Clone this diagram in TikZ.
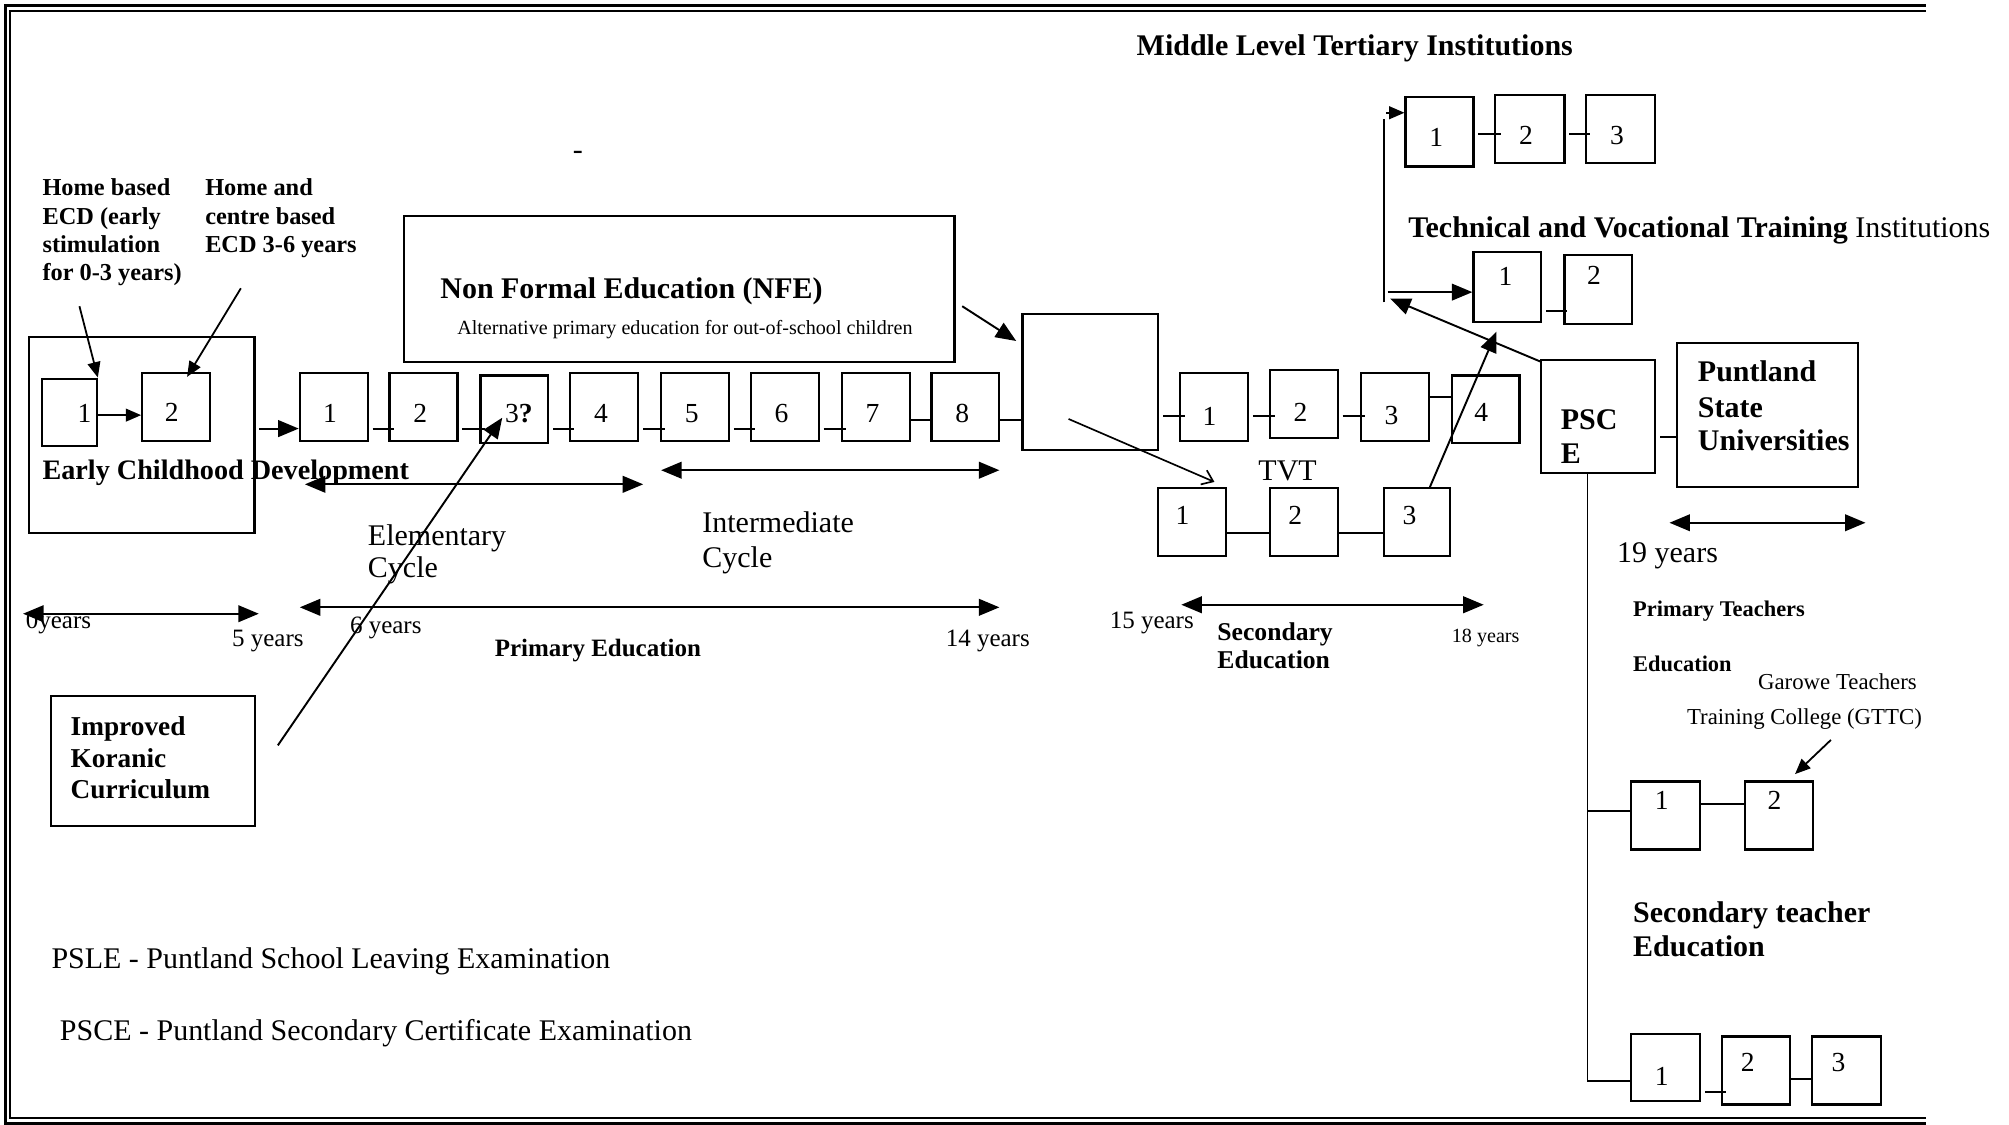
\documentclass[tikz,border=0pt]{standalone}
\usepackage{fontspec}
\setmainfont{Liberation Serif}
\usetikzlibrary{arrows.meta,calc}
\tikzset{
 bx/.style={draw, line width=1.7pt, inner sep=0pt},
 ln/.style={line width=1.5pt},
 arrL/.style={line width=1.5pt, -{Triangle[length=16pt,width=13pt]}},
 arrS/.style={line width=1.4pt, -{Triangle[length=12pt,width=10pt]}},
 darr/.style={line width=1.5pt, {Triangle[length=16pt,width=13pt]}-{Triangle[length=16pt,width=13pt]}},
 openarr/.style={line width=1.3pt, -{Straight Barb[length=8pt,width=12pt]}},
 txt/.style={anchor=base west, inner sep=0pt},
 dig/.style={inner sep=0pt, font=\fontsize{21.5}{24}\selectfont},
 fA/.style={font=\fontsize{23.4}{26}\selectfont},
 fAb/.style={font=\fontsize{23.4}{26}\selectfont\bfseries},
 fE/.style={font=\fontsize{19}{22}\selectfont\bfseries},
 fY/.style={font=\fontsize{19.5}{22}\selectfont},
 fYb/.style={font=\fontsize{19.5}{22}\selectfont\bfseries},
 fS/.style={font=\fontsize{15.7}{18}\selectfont},
 fK/.style={font=\fontsize{21.3}{24}\selectfont\bfseries},
 fPT/.style={font=\fontsize{17.5}{20}\selectfont\bfseries},
 fG/.style={font=\fontsize{17.8}{20}\selectfont},
}
\newcommand\mkbox[5]{\node[bx, minimum width={(#4-#2)*1pt}, minimum height={(#5-#3)*1pt}] (#1) at ({(#2+#4)/2},{(#3+#5)/2}) {};}
\begin{document}
\begin{tikzpicture}[x=1pt,y=-1pt]
\fill[white] (0,0) rectangle (1568,878);
\useasboundingbox (0,0) rectangle (1568,878);
% frame
\draw[line width=2.4pt] (1503,4.5) -- (4.3,4.5) -- (4.3,877) -- (1503,877);
\draw[line width=1.7pt] (1503,8.4) -- (7.8,8.4) -- (7.8,872.4) -- (1503,872.4);

% ---------- boxes ----------
\mkbox{ecd}{22.7}{263}{198.6}{416}
\mkbox{e1}{33}{295.5}{75.5}{348}
\mkbox{e2}{111}{291}{164}{344}
\mkbox{p1}{234}{291}{287}{344}
\mkbox{p2}{304}{291}{357}{344}
\mkbox{p3}{375}{293}{428}{346}
\mkbox{p4}{445}{291}{498}{344}
\mkbox{p5}{516}{291}{569}{344}
\mkbox{p6}{586}{291}{639}{344}
\mkbox{p7}{657}{291}{710}{344}
\mkbox{p8}{727}{291}{780}{344}
\mkbox{big}{798}{245}{904}{351}
\mkbox{nfe}{315}{168.5}{745}{282.5}
\mkbox{kor}{40}{543}{199}{644.5}
\mkbox{s1}{921}{291}{974}{344}
\mkbox{s2}{991}{289}{1044}{342}
\mkbox{s3}{1062}{291}{1115}{344}
\mkbox{s4}{1133}{293}{1186}{346}
\mkbox{t1}{904}{381}{957}{434}
\mkbox{t2}{991}{381}{1044}{434}
\mkbox{t3}{1080}{381}{1132}{434}
\mkbox{m1}{1097}{76}{1150}{130}
\mkbox{m2}{1167}{74}{1221}{127}
\mkbox{m3}{1238}{74}{1292}{127}
\mkbox{ti1}{1150}{197}{1203}{251}
\mkbox{ti2}{1221}{199}{1274}{253}
\mkbox{psce}{1203}{281}{1292}{369}
\mkbox{psu}{1309}{268}{1450}{380}
\mkbox{pt1}{1273}{610}{1327}{663}
\mkbox{pt2}{1362}{610}{1415}{663}
\mkbox{st1}{1273}{807}{1327}{859}
\mkbox{st2}{1344}{809}{1397}{862}
\mkbox{st3}{1414}{809}{1468}{862}

% ---------- digits ----------
\node[dig] (e1n) at (66,323) {1};
\node[dig] (e2n) at (134,322) {2};
\node[dig] (p1n) at (257.6,322.5) {1};
\node[dig] (p2n) at (328,322.5) {2};
\node[dig] (p3n) at (405,322.5) {3\textbf{?}};
\node[dig] (p4n) at (469,322.5) {4};
\node[dig] (p5n) at (540,322.5) {5};
\node[dig] (p6n) at (610,322.5) {6};
\node[dig] (p7n) at (681,322.5) {7};
\node[dig] (p8n) at (751,322.5) {8};
\node[dig] (s1n) at (944,325) {1};
\node[dig] (s2n) at (1015,322) {2};
\node[dig] (s3n) at (1086,324) {3};
\node[dig] (s4n) at (1156,322) {4};
\node[dig] (t1n) at (923,402) {1};
\node[dig] (t2n) at (1011,402) {2};
\node[dig] (t3n) at (1100,402) {3};
\node[dig] (m1n) at (1121,107) {1};
\node[dig] (m2n) at (1191,106) {2};
\node[dig] (m3n) at (1262,106) {3};
\node[dig] (ti1n) at (1175,216) {1};
\node[dig] (ti2n) at (1244,215) {2};
\node[dig] (pt1n) at (1297,625) {1};
\node[dig] (pt2n) at (1385,625) {2};
\node[dig] (st1n) at (1297,840) {1};
\node[dig] (st2n) at (1364,829) {2};
\node[dig] (st3n) at (1435,829) {3};

% ---------- texts ----------
\node[txt,fAb] (mlti) at (887,43.7) {Middle Level Tertiary Institutions};
\node[txt,fA] (dash) at (447,124.4) {-};
\node[txt,fE] (hb1) at (33,152.3) {Home based};
\node[txt,fE] (hb2) at (33,174.9) {ECD (early};
\node[txt,fE] (hb3) at (33,197.3) {stimulation};
\node[txt,fE] (hb4) at (33,219.3) {for 0-3 years)};
\node[txt,fE] (ha1) at (160,152.3) {Home and};
\node[txt,fE] (ha2) at (160,174.9) {centre based};
\node[txt,fE] (ha3) at (160,197.3) {ECD 3-6 years};
\node[txt,font=\fontsize{22}{24}\selectfont\bfseries] (ecdT) at (33,374.3) {Early Childhood Development};
\node[txt,fAb] (nfeT) at (343.5,233.3) {Non Formal Education (NFE)};
\node[txt,fS] (nfeS) at (356.7,261.2) {Alternative primary education for out-of-school children};
\node[txt,fA] (el1) at (287,425.7) {Elementary};
\node[txt,fA] (el2) at (287,450.7) {Cycle};
\node[txt,fA] (in1) at (548,415.7) {Intermediate};
\node[txt,fA] (in2) at (548,442.7) {Cycle};
\node[txt,fY] (y0) at (20,490.9) {0years};
\node[txt,fY] (y5) at (181,504.4) {5 years};
\node[txt,fY] (y6) at (273,494.4) {6 years};
\node[txt,fY] (y14) at (738,504.4) {14 years};
\node[txt,fYb] (pe) at (386,512.4) {Primary Education};
\node[txt,fK] (k1) at (55,574) {Improved};
\node[txt,fK] (k2) at (55,599) {Koranic};
\node[txt,fK] (k3) at (55,623) {Curriculum};
\node[txt,fA] (psle) at (40,755.7) {PSLE - Puntland School Leaving Examination};
\node[txt,fA] (pscet) at (46.6,811.7) {PSCE - Puntland Secondary Certificate Examination};
\node[txt,fA] (tvt) at (982,374.7) {TVT};
\node[txt,fY] (y15) at (866,490.4) {15 years};
\node[txt,fS] (y18) at (1133,501.2) {18 years};
\node[txt,font=\fontsize{20}{22}\selectfont\bfseries] (se1) at (950,499.6) {Secondary};
\node[txt,font=\fontsize{20}{22}\selectfont\bfseries] (se2) at (950,521.6) {Education};
\node[txt,fA] (tvti) at (1099,185.7) {\textbf{Technical and Vocational Training} Institutions};
\node[txt,fAb] (ps1) at (1218,335.2) {PSC};
\node[txt,fAb] (ps2) at (1218,361.7) {E};
\node[txt,fAb] (pu1) at (1325,297.7) {Puntland};
\node[txt,fAb] (pu2) at (1325,325.7) {State};
\node[txt,fAb] (pu3) at (1325,351.7) {Universities};
\node[txt,fA] (y19) at (1262,438.7) {19 years};
\node[txt,fPT] (pte1) at (1274.5,481.3) {Primary Teachers};
\node[txt,fPT] (pte2) at (1274.5,523.8) {Education};
\node[txt,fG] (g1) at (1372,537.8) {Garowe Teachers};
\node[txt,fG] (g2) at (1316.5,565.8) {Training College (GTTC)};
\node[txt,fAb] (ste1) at (1274.5,719.7) {Secondary teacher};
\node[txt,fAb] (ste2) at (1274.5,746.7) {Education};

% ---------- coordinates ----------
\coordinate (hbA) at (62,239);
\coordinate (haA) at (188,225);
\coordinate (nfeA) at (751,239);
\coordinate (vB) at (1080,236);
\coordinate (vT) at (1080,93);
\coordinate (vA) at (1082,88);
\coordinate (vH) at (1083,228);
\coordinate (vJ) at (1085,233);
\coordinate (gA) at (1429,577.5);
\coordinate (a05L) at (18,479);   \coordinate (a05R) at (202,479);
\coordinate (a614L) at (234,474); \coordinate (a614R) at (780,474);
\coordinate (a1518L) at (922,472); \coordinate (a1518R) at (1158,472);
\coordinate (elL) at (238,378);   \coordinate (elR) at (502,378);
\coordinate (inL) at (516,367);   \coordinate (inR) at (780,367);
\coordinate (a19L) at (1303,408); \coordinate (a19R) at (1456,408);
\coordinate (vx) at (1239,0);

% ---------- connectors ----------
\draw[arrS] (hbA) -- (e1.north east);
\draw[arrS] (haA) -- ($(e2.north)+(8.5,4)$);
\draw[arrS] (e1.east |- 0,324) -- (e2.west |- 0,324);
\draw[arrL] ($(ecd.east |- 0,334.5)+(3,0)$) -- (p1.west |- 0,334.5);
\draw[ln] ($(p1.east |- 0,335)+(3,0)$) -- ($(p2.west |- 0,335)+(4,0)$);
\draw[ln] ($(p2.east |- 0,335)+(3,0)$) -- ($(p3.west |- 0,335)+(4,0)$);
\draw[ln] ($(p3.east |- 0,335)+(3,0)$) -- ($(p4.west |- 0,335)+(4,0)$);
\draw[ln] ($(p4.east |- 0,335)+(3,0)$) -- ($(p5.west |- 0,335)+(4,0)$);
\draw[ln] ($(p5.east |- 0,335)+(3,0)$) -- ($(p6.west |- 0,335)+(4,0)$);
\draw[ln] ($(p6.east |- 0,335)+(3,0)$) -- ($(p7.west |- 0,335)+(4,0)$);
\draw[ln] (p7.east |- 0,328) -- (p8.west |- 0,328);
\draw[ln] (p8.east |- 0,328) -- (big.west |- 0,328);
\draw[arrL] ($(kor.east)+(17,-12)$) -- ($(p3.center)+(-9.5,6.5)$);
\draw[arrL] (nfeA) -- ($(big.north west)+(-4,22)$);
\draw[openarr] ($(big.center)+(-17,29)$) -- ($(t1.north east)+(-10,-4)$);
\draw[ln] ($(big.east |- 0,325)+(3,0)$) -- ($(s1.west |- 0,325)+(5,0)$);
\draw[ln] ($(s1.east |- 0,325)+(3,0)$) -- ($(s2.west |- 0,325)+(5,0)$);
\draw[ln] ($(s2.east |- 0,325)+(3,0)$) -- ($(s3.west |- 0,325)+(4,0)$);
\draw[ln] (s3.east |- 0,310) -- (s4.west |- 0,310);
\draw[ln] (t1.east |- 0,416) -- (t2.west |- 0,416);
\draw[ln] (t2.east |- 0,416) -- (t3.west |- 0,416);
\draw[arrL] ($(t3.north)+(10,0)$) -- ($(ti1.south)+(-8.5,7)$);
\draw[ln] ($(m1.east |- 0,104.6)+(3,0)$) -- ($(m2.west |- 0,104.6)+(5,0)$);
\draw[ln] ($(m2.east |- 0,104.6)+(3,0)$) -- ($(m3.west |- 0,104.6)+(4,0)$);
\draw[ln] ($(ti1.east |- 0,243)+(3,0)$) -- ($(ti2.west |- 0,243)+(3,0)$);
\draw[ln] (vB) -- (vT);
\draw[arrS] (vA) -- (m1.west |- vA);
\draw[arrL] (vH) -- (ti1.west |- vH);
\draw[arrL] ($(psce.north west)+(0,2)$) -- (vJ);
\draw[ln] ($(psce.east |- 0,341)+(3,0)$) -- (psu.west |- 0,341);
\draw[ln] (vx |- psce.south) -- (vx |- 0,843.5) -- (st1.west |- 0,843.5);
\draw[ln] (vx |- 0,633) -- (pt1.west |- 0,633);
\draw[ln] (pt1.east |- 0,627.5) -- (pt2.west |- 0,627.5);
\draw[arrS] (gA) -- ($(pt2.north)+(12.5,-5)$);
\draw[ln] ($(st1.east |- 0,852)+(3,0)$) -- ($(st2.west |- 0,852)+(4,0)$);
\draw[ln] (st2.east |- 0,842) -- (st3.west |- 0,842);
% spans
\draw[darr] (a05L) -- (a05R);
\draw[darr] (a614L) -- (a614R);
\draw[darr] (a1518L) -- (a1518R);
\draw[darr] (elL) -- (elR);
\draw[darr] (inL) -- (inR);
\draw[darr] (a19L) -- (a19R);
\end{tikzpicture}
\end{document}
